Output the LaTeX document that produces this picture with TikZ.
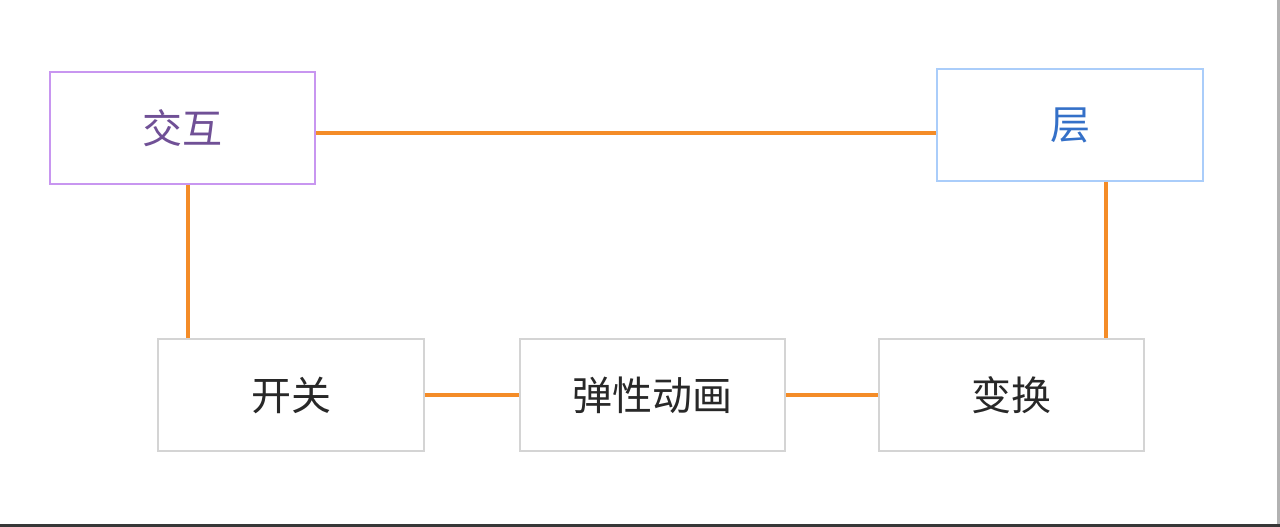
\documentclass[tikz,border=0pt]{standalone}
\usepackage{fontspec}
\usepackage{tikz}
\newfontfamily\cjk{Noto Sans CJK SC}
\definecolor{linkorange}{RGB}{244,140,40}
\definecolor{boxgray}{RGB}{212,212,212}
\definecolor{ixpurple}{RGB}{200,150,240}
\definecolor{ixtext}{RGB}{112,80,150}
\definecolor{lyblue}{RGB}{170,205,250}
\definecolor{lytext}{RGB}{52,112,200}
\definecolor{txtgray}{RGB}{40,40,40}
\definecolor{framedark}{RGB}{55,55,55}
\tikzset{
  box/.style={draw=boxgray,line width=1.5pt,fill=white,minimum width=199pt,minimum height=84pt,
    inner sep=0pt,font=\cjk\fontsize{30}{36}\selectfont,text=txtgray},
  topbox/.style={box,draw=ixpurple,text=ixtext},
  layerbox/.style={box,draw=lyblue,text=lytext},
  link/.style={line width=2.6pt,linkorange},
}

\begin{document}
\begin{tikzpicture}[x=0.75pt,y=-0.75pt]
    \useasboundingbox (0,0) rectangle (1280,527);
    % ------------- screenshot frame -------------
    \fill[gray!60] (1277,0) rectangle (1280,524);
    \fill[framedark] (0,524) rectangle (1280,527);
    % ------------- top row -------------
    \node[topbox] (jiaohu) at (182.5,128.5) {交互};
    \node[layerbox] (ceng) at (1070,125.5) {层};
    % ------------- bottom row -------------
    \node[box] (kaiguan) at (291,395) {开关};
    \node[box] (tanxing) at (652.5,395) {弹性动画};
    \node[box] (bianhuan) at (1011.5,395) {变换};
    % links
    \draw[link] ([yshift=-3.4pt]jiaohu.east) -- ([yshift=-3.4pt]jiaohu.east -| ceng.west);
    \draw[link] ([xshift=4.1pt]jiaohu.south) -- ([xshift=4.1pt]jiaohu.south |- kaiguan.north);
    \draw[link] ([xshift=27pt]ceng.south) -- ([xshift=27pt]ceng.south |- bianhuan.north);
    \draw[link] (kaiguan) -- (tanxing);
    \draw[link] (tanxing) -- (bianhuan);
  \end{tikzpicture}
\end{document}
